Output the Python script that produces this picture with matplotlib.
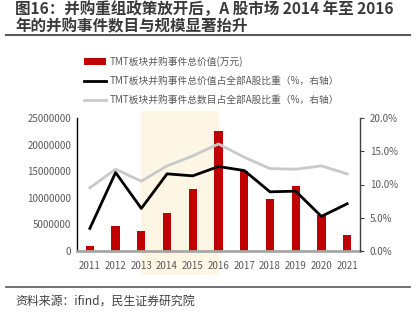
import matplotlib
matplotlib.use("Agg")
import matplotlib.pyplot as plt
import matplotlib.transforms as mtransforms
from matplotlib.patches import Rectangle
from matplotlib.lines import Line2D
from matplotlib.ticker import FuncFormatter, PercentFormatter
import numpy as np

plt.rcParams['font.family'] = ['Noto Sans CJK SC', 'DejaVu Sans']

# 数据
years = ['2011', '2012', '2013', '2014', '2015', '2016', '2017', '2018', '2019', '2020', '2021']
deal_value = [950000, 4650000, 3700000, 7080000, 11600000, 22500000, 15100000, 9770000, 12200000, 6700000, 2950000]
value_share = [3.4, 11.8, 6.4, 11.6, 11.3, 12.7, 12.1, 8.9, 9.0, 5.2, 7.1]
count_share = [9.5, 12.3, 10.5, 12.8, 14.3, 16.1, 14.1, 12.4, 12.3, 12.8, 11.6]
label_bar = 'TMT板块并购事件总价值(万元)'
label_value = 'TMT板块并购事件总价值占全部A股比重（%，右轴）'
label_count = 'TMT板块并购事件总数目占全部A股比重（%，右轴）'
highlight = (2, 5)  # 2013 - 2016

red = '#C00000'
grey_line = '#C9C9C9'
tick_col = '#595959'

fig = plt.figure(figsize=(4.16, 3.25), dpi=100)
ax = fig.add_axes([77 / 416, 1 - 251 / 325, (360 - 77) / 416, (251 - 118) / 325])
ax2 = ax.twinx()

x = np.arange(len(years))

# 高亮区域
trans = mtransforms.blended_transform_factory(ax.transData, fig.transFigure)
rect = Rectangle((highlight[0], 1 - 275 / 325), highlight[1] - highlight[0], (275 - 111) / 325,
                 transform=trans, facecolor='#FEF6E5', edgecolor='none', clip_on=False, zorder=0)
ax.add_patch(rect)

ax.bar(x, deal_value, width=0.32, color=red, zorder=2)
ax.set_xlim(-0.5, len(years) - 0.5)
ax.set_ylim(0, 25000000)
ax.set_yticks(np.arange(0, 25000001, 5000000))
ax.yaxis.set_major_formatter(FuncFormatter(lambda v, p: f'{int(v)}'))
ax.set_xticks(x)
ax.set_xticklabels(years)

ax2.plot(x, count_share, color=grey_line, lw=2, solid_joinstyle='round', zorder=3)
ax2.plot(x, value_share, color='black', lw=2, solid_joinstyle='round', zorder=4)
ax2.set_ylim(0, 20)
ax2.set_yticks(np.arange(0, 20.1, 5))
ax2.yaxis.set_major_formatter(PercentFormatter(decimals=1))

for a in (ax, ax2):
    a.patch.set_visible(False)
    a.spines['top'].set_visible(False)
    a.tick_params(labelsize=7, colors=tick_col, length=0, pad=4)
ax.spines['right'].set_visible(False)
ax.spines['left'].set_color('black')
ax.spines['left'].set_linewidth(1)
ax.spines['bottom'].set_color('#A6A6A6')
ax.spines['bottom'].set_linewidth(2)
ax2.spines['left'].set_visible(False)
ax2.spines['bottom'].set_visible(False)
ax2.spines['right'].set_color('#404040')
ax2.spines['right'].set_linewidth(1)
ax2.tick_params(axis='y', length=3, direction='out', color='#404040', pad=4)
ax.tick_params(axis='x', pad=7)

handles = [Rectangle((0, 0), 1, 1, facecolor=red),
           Line2D([], [], color='black', lw=2),
           Line2D([], [], color=grey_line, lw=2)]
fig.legend(handles, [label_bar, label_value, label_count], loc='upper left',
           bbox_to_anchor=(80 / 416, 1 - 52 / 325), frameon=False, fontsize=7,
           handlelength=2.3, handleheight=0.7, labelspacing=0.95, handletextpad=0.3,
           labelcolor='#595959', borderaxespad=0)

fig.text(15 / 416, 1 - 2 / 325, '图16：并购重组政策放开后，A 股市场 2014 年至 2016\n年的并购事件数目与规模显著抬升',
         ha='left', va='top', fontsize=11.2, fontweight='bold', color='#3A3A3A', linespacing=1.0)
fig.add_artist(Line2D([6 / 416, 410 / 416], [1 - 35 / 325, 1 - 35 / 325], color='#595959', lw=1.5))
fig.add_artist(Line2D([6 / 416, 410 / 416], [1 - 287 / 325, 1 - 287 / 325], color='#595959', lw=1.2))
fig.text(15 / 416, 1 - 301 / 325, '资料来源：ifind，民生证券研究院', ha='left', va='center',
         fontsize=8.6, color='#404040')

fig.savefig('out.png', dpi=100)
